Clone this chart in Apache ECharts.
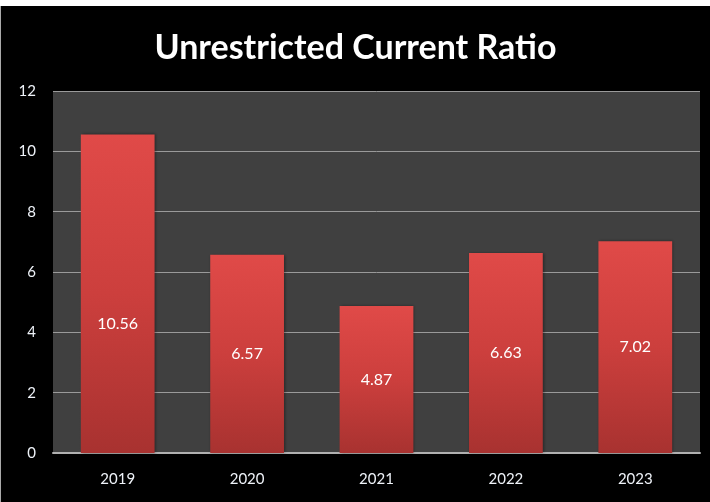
<!DOCTYPE html>
<html>
<head>
<meta charset="utf-8">
<script src="https://cdn.jsdelivr.net/npm/echarts@6/dist/echarts.min.js"></script>
<style>
  html, body { margin: 0; padding: 0; background: #ffffff; }
  #chart { position: absolute; left: 0; top: 6px; width: 710px; height: 496px; background: #000; border-left: 1px solid #aaa; box-sizing: border-box; }
</style>
</head>
<body>
<div id="chart"></div>
<script>
// chart data
const years = ['2019', '2020', '2021', '2022', '2023'];
const ratios = [10.56, 6.57, 4.87, 6.63, 7.02];
const yTicks = [0, 2, 4, 6, 8, 10, 12];

const chart = echarts.init(document.getElementById('chart'));

const barColor = new echarts.graphic.LinearGradient(0, 0, 0, 1, [
  { offset: 0, color: '#e04a48' },
  { offset: 0.5, color: '#cc3f3d' },
  { offset: 1, color: '#a83230' }
]);

const option = {
  backgroundColor: '#000',
  animation: false,
  title: {
    text: 'Unrestricted Current Ratio',
    left: 'center',
    top: 20,
    textStyle: { color: '#fff', fontFamily: 'Lato', fontWeight: 'bold', fontSize: 34 }
  },
  grid: { left: 52, right: 10, top: 85, bottom: 49, backgroundColor: '#404040', show: true, borderWidth: 0 },
  xAxis: {
    type: 'category',
    data: years,
    axisTick: { show: false },
    axisLine: { lineStyle: { color: '#b0b0b0', width: 2 } },
    axisLabel: { color: '#eef2f8', fontFamily: 'Lato', fontSize: 15, margin: 19 }
  },
  yAxis: {
    type: 'value',
    min: yTicks[0],
    max: yTicks[yTicks.length - 1],
    interval: 2,
    axisLine: { show: false },
    axisTick: { show: false },
    splitLine: { lineStyle: { color: '#9a9a9a', width: 1 } },
    axisLabel: { color: '#eef2f8', fontFamily: 'Lato', fontSize: 15, margin: 17 }
  },
  series: [{
    type: 'bar',
    barWidth: '57%',
    data: ratios.map(function (v, i) {
      // first label sits lower in the original
      return i === 0 ? { value: v, label: { offset: [0, 30] } } : v;
    }),
    itemStyle: { color: barColor, shadowColor: 'rgba(0,0,0,0.4)', shadowBlur: 3, shadowOffsetX: 1 },
    label: {
      show: true,
      position: 'inside',
      color: '#fff',
      fontFamily: 'Lato',
      fontSize: 16
    }
  }]
};

chart.setOption(option);
</script>
</body>
</html>
